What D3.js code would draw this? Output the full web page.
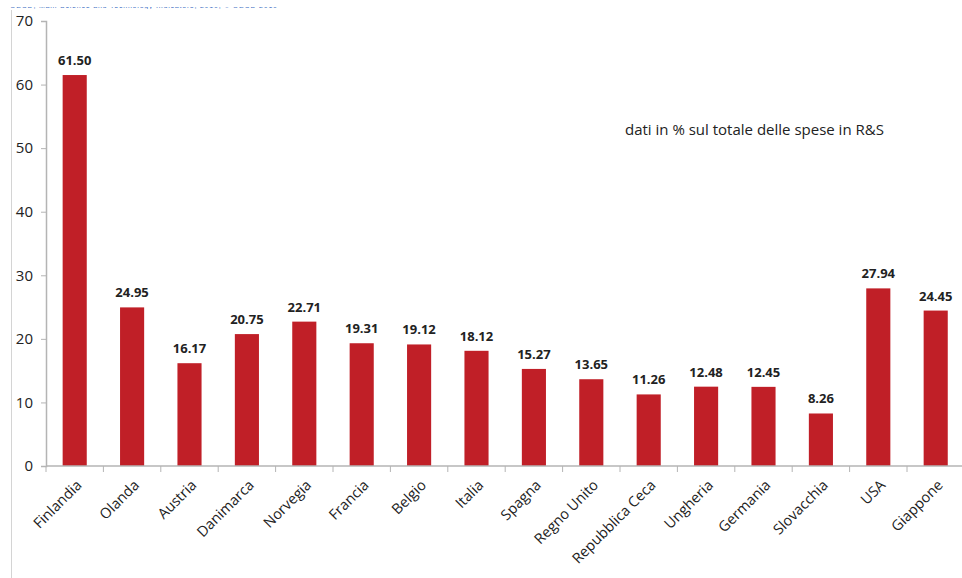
<!DOCTYPE html>
<html>
<head>
<meta charset="utf-8">
<script src="https://cdn.jsdelivr.net/npm/d3@7/dist/d3.min.js"></script>
<style>
  html, body { margin: 0; padding: 0; background: #fff; }
  svg { display: block; }
</style>
</head>
<body>
<svg id="chart" width="962" height="578"></svg>
<script>
const countries = ["Finlandia", "Olanda", "Austria", "Danimarca", "Norvegia", "Francia", "Belgio", "Italia",
  "Spagna", "Regno Unito", "Repubblica Ceca", "Ungheria", "Germania", "Slovacchia", "USA", "Giappone"];
const shares = [61.50, 24.95, 16.17, 20.75, 22.71, 19.31, 19.12, 18.12, 15.27, 13.65, 11.26, 12.48, 12.45, 8.26, 27.94, 24.45];
const yTicks = [0, 10, 20, 30, 40, 50, 60, 70];
const note = "dati in % sul totale delle spese in R&S";
const source = "OECD, Main Science and Technology Indicators, 2010, © OECD 2010";

const svg = d3.select("#chart");
const plotLeft = 46, plotTop = 21, plotBottom = 466;
const band = 57.4;
const plotRight = plotLeft + band * countries.length;

const x = d3.scaleBand().domain(countries).range([plotLeft, plotRight]).paddingInner(0.58).paddingOuter(0.29);
const y = d3.scaleLinear().domain([0, 70]).range([plotBottom, plotTop]);

// source line, mostly cut off at the top edge
svg.append("clipPath").attr("id", "srcClip")
  .append("rect").attr("x", 0).attr("y", 7).attr("width", 400).attr("height", 2);
svg.append("text")
  .attr("clip-path", "url(#srcClip)")
  .attr("x", 10).attr("y", 8)
  .attr("textLength", 267).attr("lengthAdjust", "spacing")
  .attr("font-family", "'Liberation Sans', Arial, sans-serif")
  .attr("font-size", 7).attr("fill", "#4472c4")
  .text(source);

// frame line on the left
svg.append("line")
  .attr("x1", 11.5).attr("x2", 11.5).attr("y1", 10).attr("y2", 578)
  .attr("stroke", "#d4d4d4").attr("stroke-width", 1);

// y axis
const yAxis = svg.append("g").attr("transform", `translate(${plotLeft},0)`)
  .call(d3.axisLeft(y).tickValues(yTicks).tickSize(5).tickPadding(8).tickFormat(d3.format("d")));
yAxis.select(".domain").attr("stroke", "#b4b4b4").attr("stroke-width", 1.5);
yAxis.selectAll(".tick line").attr("stroke", "#b4b4b4");
yAxis.selectAll(".tick text")
  .attr("font-family", "'Open Sans', sans-serif").attr("font-size", 15).attr("fill", "#222");

// bars
svg.append("g").selectAll("rect").data(countries).join("rect")
  .attr("x", d => x(d))
  .attr("y", (d, i) => y(shares[i]))
  .attr("width", x.bandwidth())
  .attr("height", (d, i) => y(0) - y(shares[i]))
  .attr("fill", "#c01f27");

// value labels
svg.append("g").selectAll("text").data(countries).join("text")
  .attr("x", d => x(d) + x.bandwidth() / 2)
  .attr("y", (d, i) => y(shares[i]) - 10)
  .attr("text-anchor", "middle")
  .attr("font-family", "'Open Sans', sans-serif").attr("font-weight", "bold")
  .attr("font-size", 13).attr("fill", "#222")
  .text((d, i) => shares[i].toFixed(2));

// x axis baseline and category separators
const xg = svg.append("g");
xg.append("line")
  .attr("x1", plotLeft).attr("x2", 962).attr("y1", plotBottom).attr("y2", plotBottom)
  .attr("stroke", "#b4b4b4").attr("stroke-width", 1.5);
xg.selectAll("line.sep").data(d3.range(countries.length + 1)).join("line")
  .attr("class", "sep")
  .attr("x1", i => plotLeft + i * band).attr("x2", i => plotLeft + i * band)
  .attr("y1", plotBottom).attr("y2", plotBottom + 6)
  .attr("stroke", "#b4b4b4");

// rotated category labels
xg.selectAll("text").data(countries).join("text")
  .attr("transform", d => `translate(${x(d) + x.bandwidth() / 2 + 8},${plotBottom + 20}) rotate(-45)`)
  .attr("text-anchor", "end")
  .attr("font-family", "'Open Sans', sans-serif").attr("font-size", 14.5).attr("fill", "#222")
  .text(d => d);

// note
svg.append("text")
  .attr("x", 625).attr("y", 135)
  .attr("font-family", "'Open Sans', sans-serif").attr("font-size", 15).attr("fill", "#222")
  .text(note);
</script>
</body>
</html>
